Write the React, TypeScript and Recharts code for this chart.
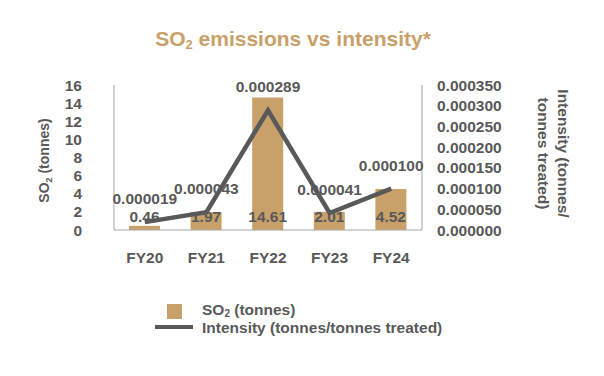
import { ComposedChart, Bar, Line, XAxis, YAxis, LabelList, Legend } from 'recharts'

const years = ['FY20', 'FY21', 'FY22', 'FY23', 'FY24']
const so2Tonnes = [0.46, 1.97, 14.61, 2.01, 4.52]
const intensity = [0.000019, 0.000043, 0.000289, 0.000041, 0.0001]
const leftTicks = [0, 2, 4, 6, 8, 10, 12, 14, 16]
const rightTicks = [0, 0.00005, 0.0001, 0.00015, 0.0002, 0.00025, 0.0003, 0.00035]

const TAN = '#c8a069'
const GREY = '#595959'
const AXIS = '#a6a6a6'
const FONT = '"Liberation Sans", Arial, sans-serif'

const data = years.map((y, i) => ({ year: y, so2: so2Tonnes[i], intensity: intensity[i] }))

const tickStyle = { fill: GREY, fontSize: 15.5, fontWeight: 700, fontFamily: FONT }

function LegendBox() {
  return (
    <div style={{ fontFamily: FONT, fontWeight: 700, fontSize: 15.5, color: GREY, lineHeight: '17px' }}>
      <div style={{ display: 'flex', alignItems: 'center', height: 16 }}>
        <span style={{ width: 15, height: 15, background: TAN, marginLeft: 12, marginRight: 20 }} />
        <span>SO<sub style={{ fontSize: 10, verticalAlign: -2 }}>2</sub> (tonnes)</span>
      </div>
      <div style={{ display: 'flex', alignItems: 'center', height: 16 }}>
        <span style={{ width: 38, height: 4, background: GREY, marginRight: 9 }} />
        <span>Intensity (tonnes/tonnes treated)</span>
      </div>
    </div>
  )
}

export default function App() {
  return (
    <div style={{ position: 'absolute', left: 0, top: 0, width: 604, height: 376, background: '#fff' }}>
      <div
        style={{
          position: 'absolute', left: 0, top: 27, width: 586, textAlign: 'center',
          fontFamily: FONT, fontWeight: 700, fontSize: 21, color: TAN,
        }}
      >
        SO<sub style={{ fontSize: 13, verticalAlign: -3 }}>2</sub> emissions vs intensity*
      </div>
      <ComposedChart
        width={604}
        height={376}
        data={data}
        margin={{ top: 85, right: 0, left: 0, bottom: 106 }}
      >
        <XAxis
          dataKey="year"
          height={40}
          interval={0}
          tick={tickStyle}
          tickLine={false}
          tickSize={0}
          tickMargin={22}
          axisLine={{ stroke: AXIS }}
        />
        <YAxis
          yAxisId="left"
          width={114}
          domain={[0, 16]}
          ticks={leftTicks}
          interval={0}
          tick={tickStyle}
          tickLine={false}
          tickSize={0}
          tickMargin={32}
          axisLine={{ stroke: AXIS }}
          label={{
            content: ({ viewBox }: any) => {
              const cy = viewBox.y + viewBox.height / 2 + 3
              return (
                <text
                  x={49} y={cy} transform={`rotate(-90 49 ${cy})`} textAnchor="middle"
                  fill={GREY} fontSize={14} fontWeight={700} fontFamily={FONT}
                >
                  SO<tspan fontSize={9} dy={3}>2</tspan><tspan dy={-3}> (tonnes)</tspan>
                </text>
              )
            },
          }}
        />
        <YAxis
          yAxisId="right"
          orientation="right"
          width={182}
          domain={[0, 0.00035]}
          ticks={rightTicks}
          interval={0}
          tickFormatter={(v: number) => v.toFixed(6)}
          tick={tickStyle}
          tickLine={false}
          tickSize={0}
          tickMargin={15}
          axisLine={{ stroke: AXIS }}
          label={{
            content: ({ viewBox }: any) => {
              const cy = viewBox.y + viewBox.height / 2 - 4
              return (
                <g fill={GREY} fontSize={15.5} fontWeight={700} fontFamily={FONT}>
                  <text x={558} y={cy} transform={`rotate(90 558 ${cy})`} textAnchor="middle">
                    Intensity (tonnes/
                  </text>
                  <text x={538} y={cy} transform={`rotate(90 538 ${cy})`} textAnchor="middle">
                    tonnes treated)
                  </text>
                </g>
              )
            },
          }}
        />
        <Legend
          verticalAlign="middle"
          content={() => <LegendBox />}
          wrapperStyle={{ position: 'absolute', left: 155, top: 303, width: 320 }}
        />
        <Bar yAxisId="left" dataKey="so2" fill={TAN} barSize={31} isAnimationActive={false}>
          <LabelList
            dataKey="so2"
            position="insideBottom"
            offset={8}
            fill={GREY}
            fontSize={15.5}
            fontWeight={700}
            fontFamily={FONT}
          />
        </Bar>
        <Line
          yAxisId="right"
          dataKey="intensity"
          type="linear"
          stroke={GREY}
          strokeWidth={4.5}
          dot={false}
          isAnimationActive={false}
        >
          <LabelList
            dataKey="intensity"
            position="top"
            offset={18}
            formatter={(v: any) => Number(v).toFixed(6)}
            fill={GREY}
            fontSize={15.5}
            fontWeight={700}
            fontFamily={FONT}
          />
        </Line>
      </ComposedChart>
    </div>
  )
}
